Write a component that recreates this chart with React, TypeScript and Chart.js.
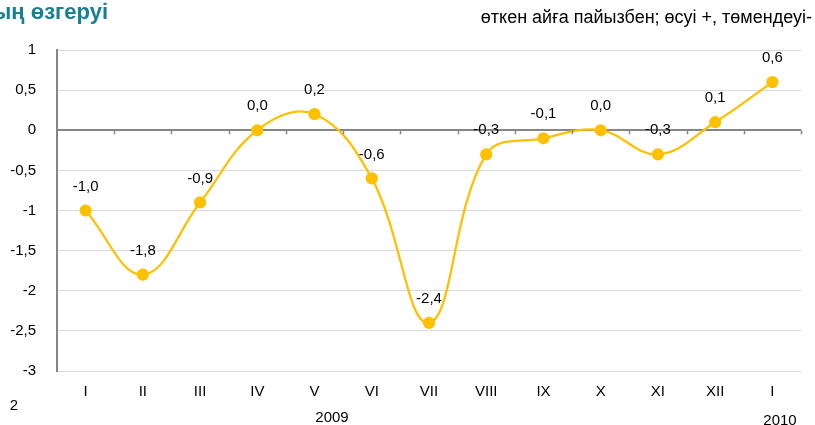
import React, { useEffect, useRef } from "react";
import { Chart, registerables } from "chart.js";

Chart.register(...registerables);

const categories = ["I", "II", "III", "IV", "V", "VI", "VII", "VIII", "IX", "X", "XI", "XII", "I"];
const values = [-1.0, -1.8, -0.9, 0.0, 0.2, -0.6, -2.4, -0.3, -0.1, 0.0, -0.3, 0.1, 0.6];
const yTicks = [1, 0.5, 0, -0.5, -1, -1.5, -2, -2.5, -3];
const titleText = "ының өзгеруі";
const subtitleText = "өткен айға пайызбен; өсуі +, төмендеуі-";
const yearLabels = ["2009", "2010"];
const pageNumber = "2";

const FONT = "'Liberation Sans', Arial, sans-serif";
const LINE_COLOR = "#FFC000";

const fmt = (v: number, digits: number) => v.toFixed(digits).replace(".", ",");

const extrasPlugin = {
  id: "extras",
  afterDatasetsDraw(chart: any) {
    const { ctx, chartArea, scales } = chart;
    const y = scales.y;
    const y0 = y.getPixelForValue(0);
    ctx.save();
    // zero-line tick marks at category boundaries
    ctx.strokeStyle = "#868686";
    ctx.lineWidth = 1.5;
    const n = categories.length;
    const step = (chartArea.right - chartArea.left) / n;
    for (let i = 1; i <= n; i++) {
      const px = Math.round(chartArea.left + i * step) + 0.5;
      ctx.beginPath();
      ctx.moveTo(px, y0);
      ctx.lineTo(px, y0 + 4);
      ctx.stroke();
    }
    // data labels
    ctx.fillStyle = "#000";
    ctx.font = `15px ${FONT}`;
    ctx.textAlign = "center";
    ctx.textBaseline = "middle";
    const meta = chart.getDatasetMeta(0);
    meta.data.forEach((pt: any, i: number) => {
      ctx.fillText(fmt(values[i], 1), pt.x, pt.y - 24);
    });
    // title
    ctx.fillStyle = "#17828F";
    ctx.font = `bold 22px ${FONT}`;
    ctx.textAlign = "right";
    ctx.textBaseline = "alphabetic";
    ctx.fillText(titleText, 108, 19);
    // subtitle
    ctx.fillStyle = "#000";
    ctx.font = `18px ${FONT}`;
    ctx.textAlign = "right";
    ctx.fillText(subtitleText, 812, 23);
    // years
    ctx.font = `15px ${FONT}`;
    ctx.textAlign = "center";
    ctx.textBaseline = "middle";
    ctx.fillText(yearLabels[0], 332, 418);
    ctx.fillText(yearLabels[1], 780, 421);
    ctx.fillText(pageNumber, 14, 406);
    ctx.restore();
  },
};

export default function App() {
  const ref = useRef<HTMLCanvasElement>(null);
  useEffect(() => {
    if (!ref.current) return;
    const chart = new Chart(ref.current, {
      type: "line",
      data: {
        labels: categories,
        datasets: [
          {
            data: values,
            borderColor: LINE_COLOR,
            backgroundColor: LINE_COLOR,
            borderWidth: 2.25,
            pointRadius: 5,
            pointBackgroundColor: LINE_COLOR,
            pointBorderColor: LINE_COLOR,
            tension: 0.4,
            fill: false,
          },
        ],
      },
      options: {
        responsive: false,
        animation: false,
        devicePixelRatio: 1,
        layout: { padding: { left: 0, right: 14, top: 50, bottom: 0 } },
        plugins: { legend: { display: false }, tooltip: { enabled: false }, title: { display: false } },
        scales: {
          x: {
            offset: true,
            grid: { display: false, drawTicks: false },
            border: { display: false },
            ticks: { color: "#000", font: { family: FONT, size: 15 }, padding: 12, maxRotation: 0, autoSkip: false },
            afterFit: (s: any) => {
              s.height = 54;
            },
          },
          y: {
            min: -3,
            max: 1,
            afterBuildTicks: (s: any) => {
              s.ticks = yTicks.map((v) => ({ value: v }));
            },
            grid: {
              drawTicks: false,
              color: (c: any) => (c.tick && c.tick.value === 0 ? "#868686" : "#D9D9D9"),
              lineWidth: (c: any) => (c.tick && c.tick.value === 0 ? 2 : 1),
            },
            border: { display: true, color: "#868686", width: 2 },
            ticks: {
              color: "#000",
              font: { family: FONT, size: 15 },
              padding: 21,
              callback: (v: any) => fmt(Number(v), Number.isInteger(Number(v)) ? 0 : 1),
            },
            afterFit: (s: any) => {
              s.width = 57;
            },
          },
        },
      },
      plugins: [extrasPlugin],
    });
    return () => chart.destroy();
  }, []);
  return (
    <div style={{ position: "absolute", left: 0, top: 0, width: 815, height: 425 }}>
      <canvas ref={ref} width={815} height={425} style={{ width: 815, height: 425 }} />
    </div>
  );
}
